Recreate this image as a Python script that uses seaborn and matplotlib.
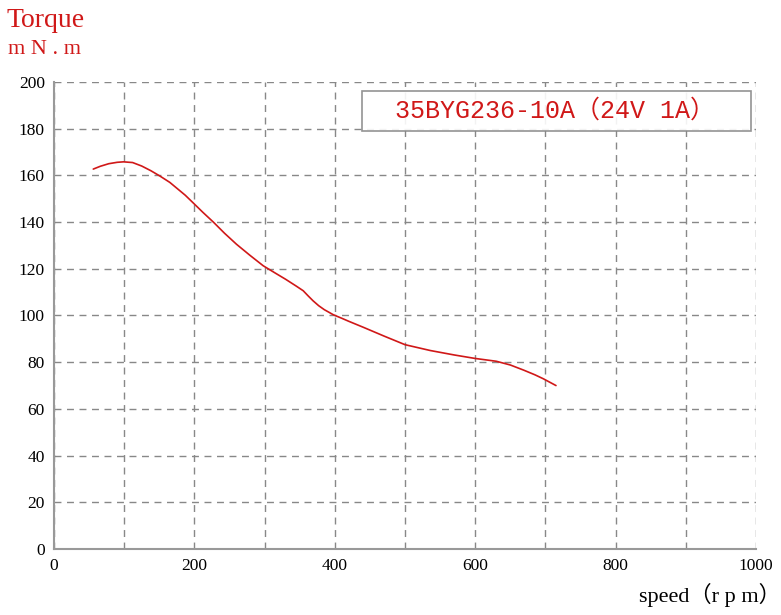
import matplotlib
matplotlib.use("Agg")
import matplotlib.pyplot as plt
import matplotlib.ticker as mticker
import pandas as pd
import seaborn as sns

# torque curve
speed_rpm = [56, 66, 78, 90, 99, 112, 125, 138, 151, 165, 175, 187, 198, 212, 227,
             243, 260, 279, 298, 315, 330, 345, 355, 362, 369, 377, 385, 398, 410,
             420, 441, 470, 500, 536, 570, 600, 630, 650, 669, 685, 697, 715]
torque_mnm = [162.7, 163.9, 165.0, 165.6, 165.8, 165.5, 164.0, 162.0, 159.7, 157.0,
              154.5, 151.5, 148.3, 144.2, 140.0, 135.2, 130.5, 125.8, 121.3, 118.2,
              115.5, 112.6, 110.6, 108.4, 106.3, 104.2, 102.5, 100.3, 98.8,
              97.5, 94.9, 91.2, 87.5, 85.0, 83.1, 81.6, 80.4, 78.8, 76.6, 74.6, 72.9, 70.0]
x_ticks = list(range(0, 1001, 100))
x_labels = [str(v) if v % 200 == 0 else "" for v in x_ticks]
y_ticks = list(range(0, 201, 20))

legend_text = "35BYG236-10A（24V 1A）"
y_title = "Torque"
y_unit = "m N . m"
x_title = "speed（r p m）"

RED = "#d01818"

sns.set_style("white")
plt.rcParams["font.family"] = ["Liberation Serif", "Noto Sans CJK SC", "DejaVu Sans"]

df = pd.DataFrame({"speed": speed_rpm, "torque": torque_mnm})

fig = plt.figure(figsize=(7.81, 6.15), dpi=100)
ax = fig.add_axes([0.0691, 0.1073, 0.899, 0.7594])

sns.lineplot(data=df, x="speed", y="torque", ax=ax, color=RED, linewidth=1.2)

ax.set_xlim(0, 1000)
ax.set_ylim(0, 200)
ax.xaxis.set_major_locator(mticker.FixedLocator(x_ticks))
ax.set_xticklabels(x_labels)
ax.set_yticks(y_ticks)
ax.grid(True, color="#888888", linestyle=(0, (5, 4)), linewidth=1.0)
ax.tick_params(axis="both", direction="inout", length=5, color="#888888",
               labelsize=12.5, labelcolor="black", pad=4)

for side in ["top", "right"]:
    ax.spines[side].set_visible(False)
for side in ["left", "bottom"]:
    ax.spines[side].set_color("#999999")
    ax.spines[side].set_linewidth(1.5)
ax.set_xlabel("")
ax.set_ylabel("")

# legend box
box = plt.Rectangle((0.4635, 0.787), 0.498, 0.065, transform=fig.transFigure,
                    facecolor="white", alpha=0.9, edgecolor="#888888",
                    linewidth=1.2, zorder=5)
fig.patches.append(box)
fig.text(0.711, 0.8195, legend_text, color=RED, fontsize=18, ha="center", va="center",
         family=["Liberation Mono", "Noto Sans CJK SC"], zorder=6)

fig.text(0.008, 0.967, y_title, color=RED, fontsize=20, ha="left", va="center")
fig.text(0.010, 0.920, y_unit, color=RED, fontsize=16, ha="left", va="center")
fig.text(1.0, 0.032, x_title, color="black", fontsize=16, ha="right", va="center")

plt.savefig("out.png", dpi=100)
plt.close()
